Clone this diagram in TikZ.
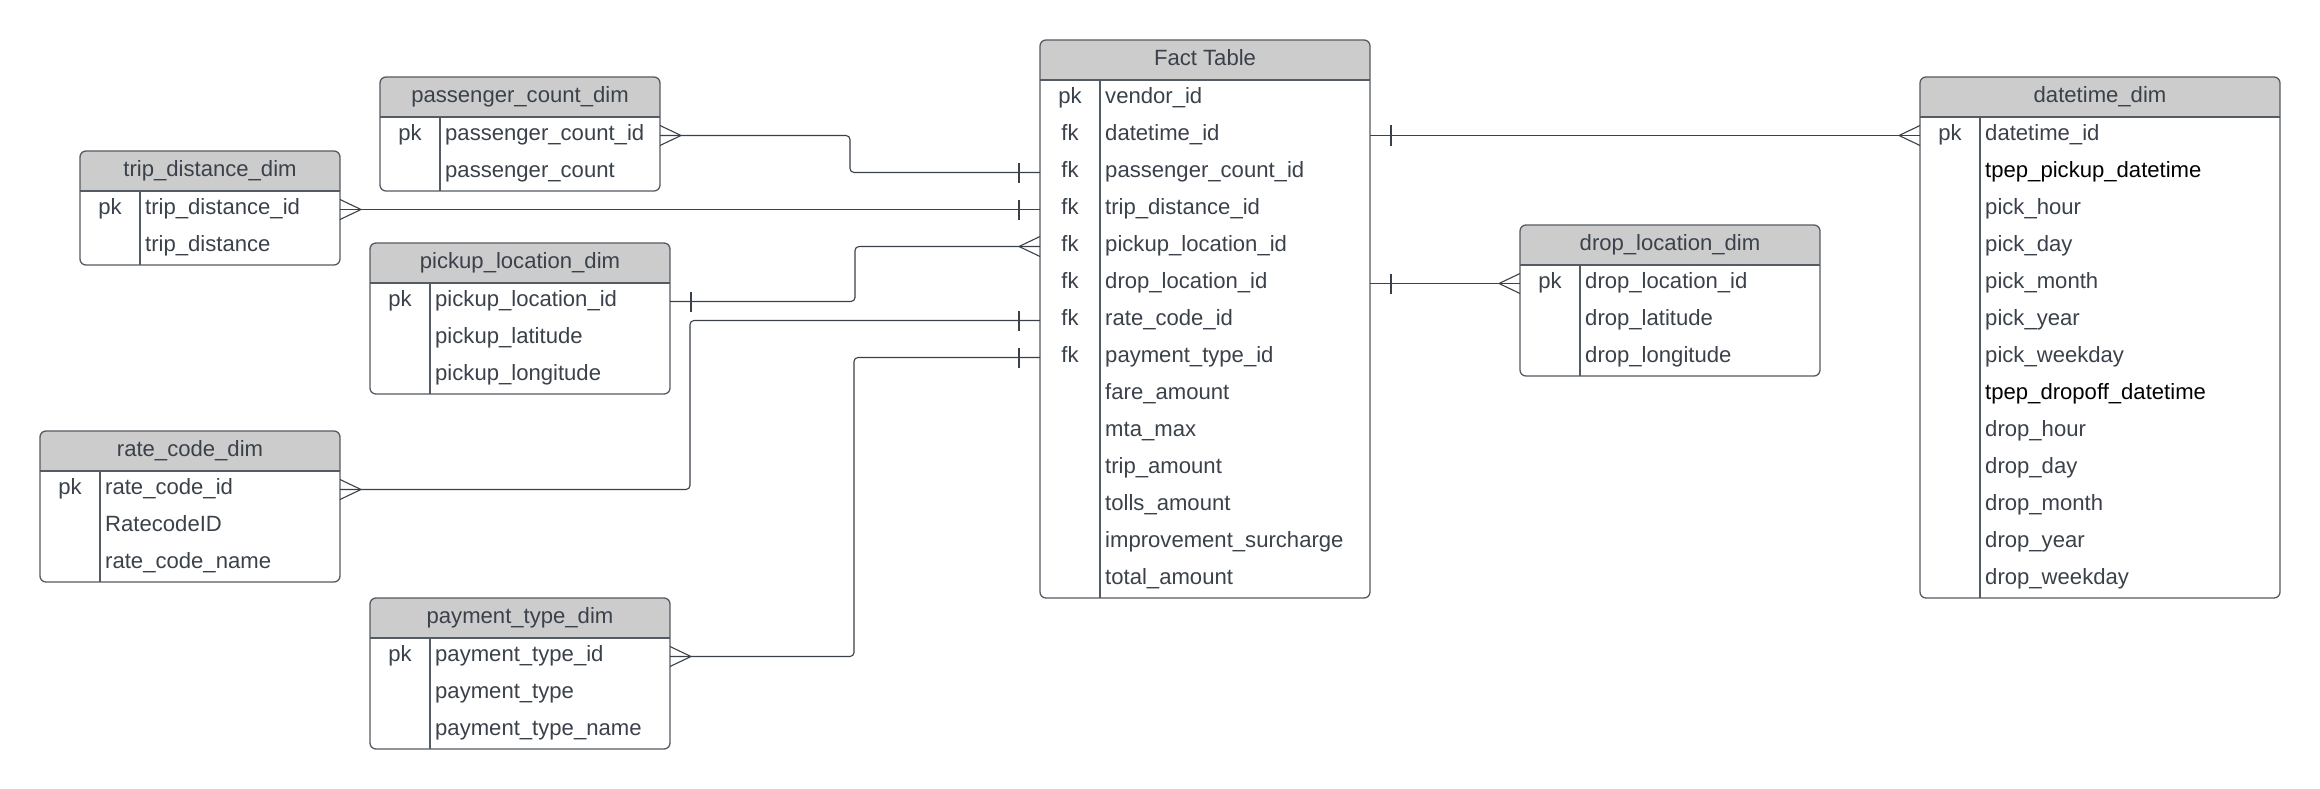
\documentclass[tikz,border=0pt]{standalone}
\usepackage{fontspec}
\setmainfont{Liberation Sans}
\usetikzlibrary{calc}
\definecolor{ink}{HTML}{3A414A}
\definecolor{edgecol}{HTML}{555B63}
\definecolor{headfill}{HTML}{CCCCCC}
\tikzset{
  conn/.style={draw=ink, line width=1.1pt},
  frame/.style={draw=edgecol, line width=1.3pt},
  rowcell/.style={rectangle, inner sep=0pt, outer sep=0pt, minimum height=37pt},
  txt/.style={inner sep=0pt, text=ink, font=\fontsize{22.1}{26}\selectfont},
}

% entity table: name, left, top, width, number of rows, title, key/field list
\newcommand\erTable[7]{%
  \begin{scope}
    \clip[rounded corners=6pt] (#2,#3) rectangle ++(#4,40+37*#5);
    \fill[headfill] (#2,#3) rectangle ++(#4,40);
  \end{scope}
  \node[rowcell, minimum height=40pt, minimum width=#4pt, anchor=north west] (#1-head) at (#2,#3) {};
  \node[txt, anchor=base] (#1-title) at ($(#1-head.north)+(0,25.5)$) {#6};
  \foreach [count=\i] \k/\f in {#7} {
    \node[rowcell, minimum width=#4pt, anchor=north west] (#1-r\i) at ($(#2,#3)+(0,3+37*\i)$) {};
    \node[txt, anchor=base] (#1-k\i) at ($(#1-r\i.north west)+(30,23.5)$) {\k};
    \node[txt, anchor=base west] (#1-f\i) at ($(#1-r\i.north west)+(65,23.5)$) {\f};
  }
  \draw[frame] (#1-head.south west) -- (#1-head.south east);
  \draw[frame] ($(#1-head.south west)+(60,0)$) -- ++(0,37*#5);
  \draw[frame, rounded corners=6pt] (#2,#3) rectangle ++(#4,40+37*#5);
}

% crow's foot ends and single bars
\newcommand\manyR[1]{\draw[conn] ($(#1)+(21,0)$) -- ($(#1)+(0,-10)$) ($(#1)+(21,0)$) -- ($(#1)+(0,10)$);}
\newcommand\manyL[1]{\draw[conn] ($(#1)+(-21,0)$) -- ($(#1)+(0,-10)$) ($(#1)+(-21,0)$) -- ($(#1)+(0,10)$);}
\newcommand\oneR[1]{\draw[conn] ($(#1)+(21,-10)$) -- ($(#1)+(21,10)$);}
\newcommand\oneL[1]{\draw[conn] ($(#1)+(-21,-10)$) -- ($(#1)+(-21,10)$);}

\begin{document}
\begin{tikzpicture}[x=1pt, y=-1pt]
\useasboundingbox (0,0) rectangle (2320,789);

\erTable{fact}{1040}{40}{330}{14}{Fact Table}{pk/vendor\_id, fk/datetime\_id, fk/passenger\_count\_id, fk/trip\_distance\_id, fk/pickup\_location\_id, fk/drop\_location\_id, fk/rate\_code\_id, fk/payment\_type\_id, {}/fare\_amount, {}/mta\_max, {}/trip\_amount, {}/tolls\_amount, {}/improvement\_surcharge, {}/total\_amount}

\erTable{pass}{380}{77}{280}{2}{passenger\_count\_dim}{pk/passenger\_count\_id, {}/passenger\_count}

\erTable{trip}{80}{151}{260}{2}{trip\_distance\_dim}{pk/trip\_distance\_id, {}/trip\_distance}

\erTable{pick}{370}{243}{300}{3}{pickup\_location\_dim}{pk/pickup\_location\_id, {}/pickup\_latitude, {}/pickup\_longitude}

\erTable{rate}{40}{431}{300}{3}{rate\_code\_dim}{pk/rate\_code\_id, {}/RatecodeID, {}/rate\_code\_name}

\erTable{pay}{370}{598}{300}{3}{payment\_type\_dim}{pk/payment\_type\_id, {}/payment\_type, {}/payment\_type\_name}

\erTable{drop}{1520}{225}{300}{3}{drop\_location\_dim}{pk/drop\_location\_id, {}/drop\_latitude, {}/drop\_longitude}

\erTable{dt}{1920}{77}{360}{13}{datetime\_dim}{pk/datetime\_id, {}/\textcolor{black}{tpep\_pickup\_datetime}, {}/pick\_hour, {}/pick\_day, {}/pick\_month, {}/pick\_year, {}/pick\_weekday, {}/\textcolor{black}{tpep\_dropoff\_datetime}, {}/drop\_hour, {}/drop\_day, {}/drop\_month, {}/drop\_year, {}/drop\_weekday}

% relationships
\draw[conn, rounded corners=4pt] (pass-r1.east) -| ($(fact-r3.west)+(-190,0)$) -- (fact-r3.west);
\manyR{pass-r1.east} \oneL{fact-r3.west}

\draw[conn] (trip-r1.east) -- (fact-r4.west);
\manyR{trip-r1.east} \oneL{fact-r4.west}

\draw[conn, rounded corners=4pt] (pick-r1.east) -| ($(fact-r5.west)+(-185,0)$) -- (fact-r5.west);
\oneR{pick-r1.east} \manyL{fact-r5.west}

\draw[conn, rounded corners=4pt] (rate-r1.east) -| ($(fact-r7.west)+(-350,0)$) -- (fact-r7.west);
\manyR{rate-r1.east} \oneL{fact-r7.west}

\draw[conn, rounded corners=4pt] (pay-r1.east) -| ($(fact-r8.west)+(-186,0)$) -- (fact-r8.west);
\manyR{pay-r1.east} \oneL{fact-r8.west}

\draw[conn] (fact-r2.east) -- (dt-r1.west);
\oneR{fact-r2.east} \manyL{dt-r1.west}

\draw[conn] (fact-r6.east) -- (drop-r1.west);
\oneR{fact-r6.east} \manyL{drop-r1.west}
\end{tikzpicture}
\end{document}
